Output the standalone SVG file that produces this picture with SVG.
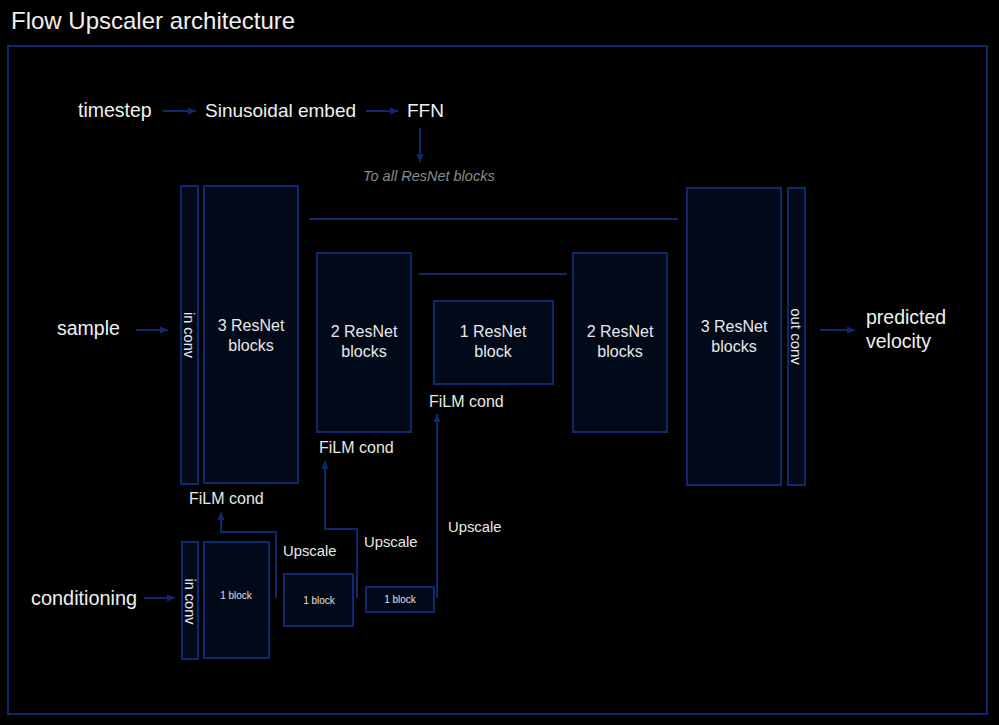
<svg xmlns="http://www.w3.org/2000/svg" width="999" height="725" viewBox="0 0 999 725">
<defs>
<marker id="ah" markerWidth="9" markerHeight="9" refX="8" refY="4.5" orient="auto" markerUnits="userSpaceOnUse">
<path d="M0,1 L8.5,4.5 L0,8 Z" fill="#0d2a6e"/>
</marker>
<style>
text{font-family:"Liberation Sans",Arial,sans-serif;fill:#f0f0f0}
.big{font-size:19.5px}
.blk{font-size:16px;text-anchor:middle;fill:#e8e8e8}
.film{font-size:16px;fill:#e8e8e8}
.small{font-size:14.8px;fill:#e8e8e8}
.vert{font-size:14.5px;fill:#e8e8e8;text-anchor:middle}
.tiny{font-size:10px;text-anchor:middle;fill:#e0e0e0}
.box{fill:#020a1a;stroke:#0d2a6e;stroke-width:2}
.conn{fill:none;stroke:#0d2a6e;stroke-width:2}
</style>
</defs>
<rect width="999" height="725" fill="#000"/>
<text x="11" y="29" style="font-size:24px">Flow Upscaler architecture</text>
<rect x="8" y="46" width="979" height="668" fill="none" stroke="#0d2a6e" stroke-width="2"/>

<g id="timestep"><text class="big" x="78" y="117">timestep</text></g>
<g id="sinusoidal"><text class="big" x="205" y="117" style="font-size:19px">Sinusoidal embed</text></g>
<g id="ffn"><text class="big" x="407" y="117" style="font-size:19px">FFN</text></g>
<g id="toall"><text x="363" y="181" style="font-size:14.5px;font-style:italic;fill:#8a8a8a">To all ResNet blocks</text></g>

<g id="sample"><text class="big" x="57" y="335">sample</text></g>
<g id="inconv"><rect class="box" x="181" y="186" width="17" height="298"/><text class="vert" transform="translate(183.5,335) rotate(90)">in conv</text></g>
<g id="enc3"><rect class="box" x="204" y="186" width="94" height="297"/><text class="blk" x="251" y="331">3 ResNet</text><text class="blk" x="251" y="351">blocks</text></g>
<g id="enc2"><rect class="box" x="317" y="253" width="94" height="179"/><text class="blk" x="364" y="337">2 ResNet</text><text class="blk" x="364" y="357">blocks</text></g>
<g id="mid"><rect class="box" x="434" y="301" width="119" height="83"/><text class="blk" x="493" y="337">1 ResNet</text><text class="blk" x="493" y="357">block</text></g>
<g id="dec2"><rect class="box" x="573" y="253" width="94" height="179"/><text class="blk" x="620" y="337">2 ResNet</text><text class="blk" x="620" y="357">blocks</text></g>
<g id="dec3"><rect class="box" x="687" y="188" width="94" height="297"/><text class="blk" x="734" y="332">3 ResNet</text><text class="blk" x="734" y="352">blocks</text></g>
<g id="outconv"><rect class="box" x="788" y="188" width="17" height="297"/><text class="vert" transform="translate(790.5,336.5) rotate(90)" style="font-size:15px">out conv</text></g>
<g id="predicted"><text class="big" x="866" y="324">predicted</text><text class="big" x="866" y="348">velocity</text></g>

<g id="film1"><text class="film" x="189" y="504">FiLM cond</text></g>
<g id="film2"><text class="film" x="319" y="453">FiLM cond</text></g>
<g id="film3"><text class="film" x="429" y="407">FiLM cond</text></g>

<g id="conditioning"><text class="big" x="31" y="605" style="font-size:19.9px">conditioning</text></g>
<g id="cinconv"><rect class="box" x="182" y="542" width="16" height="117"/><text class="vert" transform="translate(184.5,601.5) rotate(90)">in conv</text></g>
<g id="cblock1"><rect class="box" x="204" y="542" width="65" height="116"/><text class="tiny" x="236" y="599">1 block</text></g>
<g id="cblock2"><rect class="box" x="284" y="574" width="69" height="52"/><text class="tiny" x="319" y="604">1 block</text></g>
<g id="cblock3"><rect class="box" x="366" y="587" width="68" height="25"/><text class="tiny" x="400" y="603">1 block</text></g>
<g id="up1"><text class="small" x="283" y="556">Upscale</text></g>
<g id="up2"><text class="small" x="364" y="547">Upscale</text></g>
<g id="up3"><text class="small" x="448" y="532">Upscale</text></g>

<g id="connectors">
<path class="conn" d="M163,111 H196" marker-end="url(#ah)"/>
<path class="conn" d="M366,111 H398" marker-end="url(#ah)"/>
<path class="conn" d="M420,128 V162" marker-end="url(#ah)"/>
<path class="conn" d="M136,330 H168" marker-end="url(#ah)"/>
<path class="conn" d="M820,330 H855" marker-end="url(#ah)"/>
<path class="conn" d="M144,598 H175" marker-end="url(#ah)"/>
<path class="conn" d="M309,219 H678"/>
<path class="conn" d="M419,274 H567"/>
<path class="conn" d="M276,598 V532 H221 V512" marker-end="url(#ah)"/>
<path class="conn" d="M357,598 V529 H325 V461" marker-end="url(#ah)"/>
<path class="conn" d="M437,598 V414" marker-end="url(#ah)"/>
</g>
</svg>
